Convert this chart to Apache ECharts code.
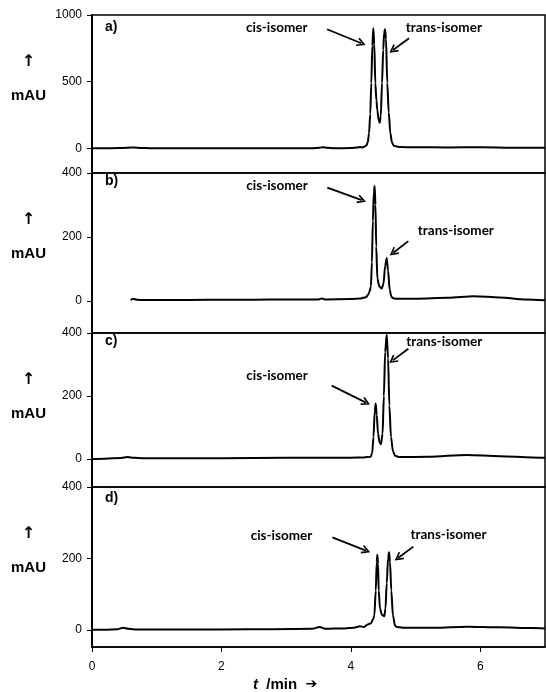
<!DOCTYPE html>
<html>
<head>
<meta charset="utf-8">
<script src="https://cdn.jsdelivr.net/npm/echarts@6/dist/echarts.min.js"></script>
<style>
html, body { margin: 0; padding: 0; background: #fff; }
#chart { width: 546px; height: 692px; }
</style>
</head>
<body>
<div id="chart"></div>
<script>
// chromatograms, points are [t / min, mAU]
var traceA = [
    [0,0],[0.2,1],[0.4,2],[0.55,4],[0.65,7],[0.75,3],[0.9,1],[1.2,0],[1.6,1],[2.0,0],[2.5,1],[3.0,0],
    [3.4,1],[3.52,5],[3.57,9],[3.63,4],[3.75,1],[4.0,2],[4.1,6],[4.14,10],[4.18,7],[4.22,15],[4.24,22],
    [4.262,45],[4.281,115],[4.30,260],[4.316,490],[4.332,770],[4.347,900],[4.362,780],[4.378,490],
    [4.395,360],[4.409,287],[4.428,215],[4.446,192],[4.462,240],[4.482,490],[4.50,740],[4.515,870],
    [4.528,893],[4.543,820],[4.563,490],[4.585,270],[4.61,115],[4.635,45],[4.662,20],[4.71,14],
    [4.755,10],[5.0,8],[5.5,7],[6.0,8],[6.5,5],[7.0,4]
];
var traceB = [
    [0.6,2],[0.63,7],[0.7,4],[0.8,3],[1.2,3],[1.8,4],[2.5,4],[3.0,5],[3.5,5],[3.55,8],[3.6,5],[4.0,6],
    [4.15,8],[4.234,12],[4.27,20],[4.286,28],[4.31,45],[4.325,120],[4.34,250],[4.355,340],[4.368,359],
    [4.38,300],[4.392,170],[4.41,70],[4.44,45],[4.477,39],[4.505,55],[4.53,110],[4.554,134],[4.575,95],
    [4.60,35],[4.625,14],[4.647,9],[4.7,7],[5.0,7],[5.5,10],[5.9,15],[6.3,11],[6.7,5],[7.0,2]
];
var traceC = [
    [0,0],[0.2,1],[0.45,3],[0.55,6],[0.65,4],[0.8,2],[1.5,2],[2.5,3],[3.5,4],[4.0,4],[4.2,5],[4.307,7],
    [4.33,20],[4.35,70],[4.368,150],[4.384,176],[4.40,140],[4.42,80],[4.445,52],[4.466,47],[4.49,80],
    [4.51,200],[4.53,340],[4.554,395],[4.575,320],[4.595,170],[4.62,70],[4.65,25],[4.683,10],[4.75,6],
    [5.2,7],[5.79,13],[6.3,9],[6.8,5],[7.0,4]
];
var traceD = [
    [0,0],[0.2,0],[0.4,2],[0.48,6],[0.56,3],[0.7,1],[1.2,1],[2.0,1],[2.8,2],[3.4,3],[3.52,8],[3.6,3],
    [3.9,4],[4.05,6],[4.14,10],[4.2,8],[4.26,15],[4.307,18],[4.34,28],[4.363,40],[4.385,110],[4.40,190],
    [4.409,210],[4.42,185],[4.43,110],[4.45,60],[4.48,42],[4.517,38],[4.535,60],[4.554,130],[4.575,200],
    [4.59,217],[4.605,190],[4.625,110],[4.65,40],[4.683,12],[4.709,8],[4.8,6],[5.3,6],[5.79,9],[6.3,7],
    [6.8,5],[7.0,4]
];
var traces = [traceA, traceB, traceC, traceD];

var panelNames = ['a)', 'b)', 'c)', 'd)'];
var yMins = [-185, -100, -89, -48];
var yMaxs = [1000, 400, 400, 400];
var yTicks = [[0, 500, 1000], [0, 200, 400], [0, 200, 400], [0, 200, 400]];
var xTicks = [0, 2, 4, 6];

// annotation anchors, [t, mAU]
var cisText = [[3.338, 902], [3.343, 359], [3.343, 266], [3.411, 264]];
var transText = [[4.842, 907], [5.027, 221], [4.848, 374], [4.914, 266]];
var cisArrow = [
    [[3.632, 893], [4.162, 788]],
    [[3.636, 354], [4.168, 315]],
    [[3.704, 233], [4.234, 179]],
    [[3.714, 259], [4.234, 222]]
];
var transArrow = [
    [[4.899, 825], [4.652, 737]],
    [[4.888, 187], [4.656, 151]],
    [[4.888, 350], [4.647, 313]],
    [[4.966, 233], [4.734, 202]]
];

// layout of the four stacked plots
var tops = [15, 173, 333, 487];
var heights = [158, 160, 154, 160];
var letterY = [28, 182, 342, 499];

var arrowHead = 'path://M5,0 L10,9 L8.4,10 L5,3.6 L1.6,10 L0,9 Z';
var tickFont = { fontFamily: 'Liberation Sans, Arial', fontSize: 12, color: '#000' };
var noteFont = 'Lato, "Open Sans", sans-serif';

var grids = [], xAxes = [], yAxes = [], series = [], graphics = [];

traces.forEach(function (trace, i) {
    var last = i === traces.length - 1;
    grids.push({
        left: 92, right: 1, top: tops[i], height: heights[i],
        show: true, borderColor: '#000', borderWidth: 1.5, backgroundColor: 'transparent'
    });
    xAxes.push({
        type: 'value', gridIndex: i, min: 0, max: 7, interval: 2,
        splitLine: { show: false },
        axisLine: { show: last, onZero: false, lineStyle: { color: '#000', width: 1.5 } },
        axisTick: { show: last, inside: false, length: 5, customValues: xTicks, lineStyle: { color: '#000' } },
        axisLabel: Object.assign({ show: last, margin: 14, customValues: xTicks }, tickFont)
    });
    yAxes.push({
        type: 'value', gridIndex: i, min: yMins[i], max: yMaxs[i],
        splitLine: { show: false },
        axisLine: { show: true, lineStyle: { color: '#000', width: 2 } },
        axisTick: { show: true, inside: false, length: 5, customValues: yTicks[i], lineStyle: { color: '#000' } },
        axisLabel: Object.assign({
            margin: 10, customValues: yTicks[i],
            formatter: function (v) { return String(v); }
        }, tickFont)
    });
    series.push({
        type: 'line', xAxisIndex: i, yAxisIndex: i, data: trace,
        showSymbol: false, smooth: 0.3, smoothMonotone: 'x',
        lineStyle: { color: '#000', width: 2 },
        markLine: {
            silent: true, symbol: ['none', arrowHead], symbolSize: [9, 9],
            lineStyle: { color: '#000', width: 1.8, type: 'solid' },
            label: { show: false },
            data: [
                [{ coord: cisArrow[i][0] }, { coord: cisArrow[i][1] }],
                [{ coord: transArrow[i][0] }, { coord: transArrow[i][1] }]
            ]
        },
        markPoint: {
            silent: true, symbol: 'circle', symbolSize: 1,
            itemStyle: { color: 'rgba(0,0,0,0)' },
            label: { show: true, color: '#000', fontWeight: 'bold', fontSize: 13.5, fontFamily: noteFont, distance: 0 },
            data: [
                { coord: cisText[i], label: { position: 'left', formatter: 'cis-isomer' } },
                { coord: transText[i], label: { position: 'right', formatter: 'trans-isomer' } }
            ]
        }
    });
    graphics.push(
        { type: 'text', left: 105, top: letterY[i] - 8,
          style: { text: panelNames[i], font: 'bold 14px "Liberation Sans", Arial', fill: '#000' } },
        { type: 'text', x: 28.5, y: tops[i] + 47,
          style: { text: '\u2191', font: 'bold 16px "DejaVu Sans"', fill: '#000', align: 'center', verticalAlign: 'middle' } },
        { type: 'text', x: 28.5, y: tops[i] + 81,
          style: { text: 'mAU', font: 'bold 15px "Liberation Sans", Arial', fill: '#000', align: 'center', verticalAlign: 'middle' } }
    );
});

graphics.push({
    type: 'text', left: 253, top: 677,
    style: {
        text: '{i|t}  /min  {a|\u2794}',
        font: 'bold 15px "Liberation Sans", Arial', fill: '#000',
        rich: {
            i: { fontStyle: 'italic', fontWeight: 'bold', fontSize: 15, fontFamily: 'Liberation Sans' },
            a: { fontWeight: 'bold', fontSize: 14, fontFamily: 'DejaVu Sans' }
        }
    }
});

var chart = echarts.init(document.getElementById('chart'));
chart.setOption({
    animation: false,
    backgroundColor: '#fff',
    grid: grids,
    xAxis: xAxes,
    yAxis: yAxes,
    series: series,
    graphic: graphics
});
</script>
</body>
</html>
